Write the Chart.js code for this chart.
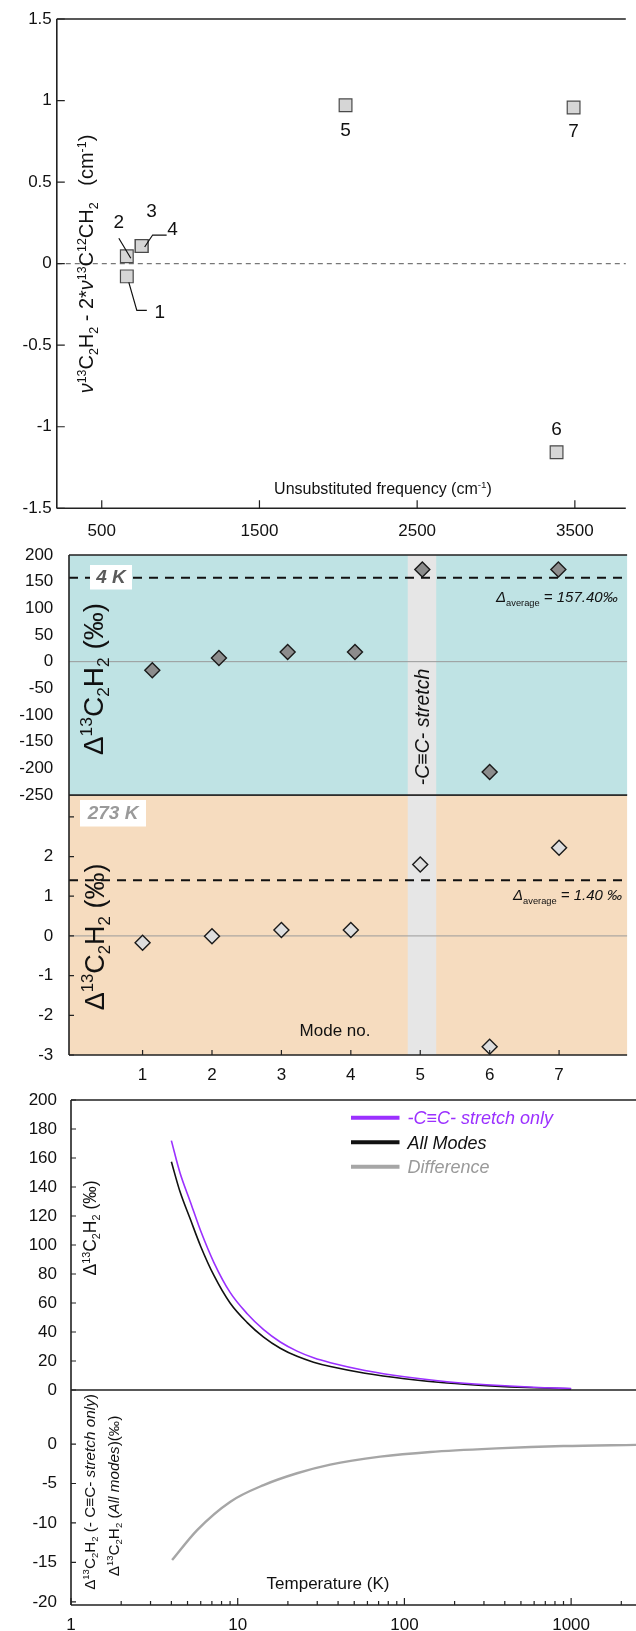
<!DOCTYPE html>
<html>
<head>
<meta charset="utf-8">
<script src="https://cdn.jsdelivr.net/npm/chart.js@4.4.1/dist/chart.umd.min.js"></script>
<style>
  html, body { margin: 0; padding: 0; background: #fff; width: 636px; height: 1631px; overflow: hidden; position: relative; }
  canvas { position: absolute; left: 0; }
</style>
</head>
<body>
<canvas id="cTop" width="636" height="550" style="top:0px"></canvas>
<canvas id="c273" width="636" height="310" style="top:780px"></canvas>
<canvas id="c4K" width="636" height="270" style="top:540px"></canvas>
<canvas id="cB2" width="636" height="241" style="top:1390px"></canvas>
<canvas id="cB1" width="636" height="320" style="top:1085px"></canvas>
<script>
// top panel: frequency shift vs unsubstituted frequency
const modeNames = ['1', '2', '3', '4', '5', '6', '7'];
const unsubFreq = [659, 659, 753, 753, 2046, 3384, 3492];
const freqDiff = [-0.078, 0.045, 0.108, 0.108, 0.971, -1.156, 0.957];
const freqTicks = [500, 1500, 2500, 3500];
const freqDiffTicks = [-1.5, -1, -0.5, 0, 0.5, 1, 1.5];

// middle panel: per-mode clumping at 4 K and 273 K
const modeNo = [1, 2, 3, 4, 5, 6, 7];
const modeNo4K = [1.14, 2.1, 3.09, 4.06, 5.03, 6.0, 6.99];
const delta4K = [-16, 7, 18, 18, 173, -207, 173];
const delta273K = [-0.17, -0.01, 0.15, 0.15, 1.80, -2.79, 2.22];
const avg4K = 157.40;
const avg273K = 1.40;
const stretchBand = [4.82, 5.23];
const ticks4K = [-250, -200, -150, -100, -50, 0, 50, 100, 150, 200];
const ticks273K = [-3, -2, -1, 0, 1, 2, 3];

// bottom panel: temperature dependence
const tempK = [4, 4.5, 5.2, 6, 7.2, 9, 11.4, 14.3, 18, 22.7, 28.5, 36, 58, 100, 180, 310, 600, 1000];
const stretchOnly = [172, 150, 129.7, 109.6, 87.9, 67.3, 52.6, 41.6, 33.1, 26.8, 22.2, 18.8, 13.5, 9.1, 5.7, 3.6, 1.85, 1.05];
const allModes = [157.4, 137, 117.7, 99, 79, 60, 46.5, 36.5, 28.8, 23.2, 19.2, 16.2, 11.6, 7.8, 4.8, 3.0, 1.5, 0.8];
const diffTemp = [4.04, 5.71, 9.04, 14.3, 22.7, 35.9, 71.6, 143, 358, 898, 2450];
const diffVals = [-14.7, -10.9, -7.3, -5.2, -3.7, -2.6, -1.6, -1.0, -0.55, -0.25, -0.1];
const seriesNames = ['-C\u2261C- stretch only', 'All Modes', 'Difference'];
const seriesColors = ['#9b30ff', '#111111', '#a6a6a6'];
const upperTicks = [0, 20, 40, 60, 80, 100, 120, 140, 160, 180, 200];
const lowerTicks = [-20, -15, -10, -5, 0];
const logTicks = [1, 2, 3, 4, 5, 6, 7, 8, 9, 10, 20, 30, 40, 50, 60, 70, 80, 90,
                  100, 200, 300, 400, 500, 600, 700, 800, 900, 1000, 2000];
const logMajor = [1, 10, 100, 1000];

const FAM = "'Liberation Sans', Arial, Helvetica, sans-serif";
Chart.defaults.font.family = FAM;
Chart.defaults.color = '#111';

const TOP_T = 0, TOP_4K = 540, TOP_273 = 780, TOP_B1 = 1085, TOP_B2 = 1390;

// text with sub/superscripts; parts = [text, 'n'|'sup'|'sub', italic]
function rich(ctx, parts, x, y, size, opts = {}) {
  ctx.save();
  ctx.translate(x, y);
  if (opts.rot) ctx.rotate(opts.rot);
  const fontFor = p => (p[2] ? 'italic ' : '') + (opts.bold ? 'bold ' : '') +
    (p[1] === 'n' ? size : size * 0.62) + 'px ' + FAM;
  let w = 0;
  parts.forEach(p => { ctx.font = fontFor(p); w += ctx.measureText(p[0]).width; });
  let cx = opts.align === 'left' ? 0 : -w / 2;
  ctx.fillStyle = opts.color || '#111';
  ctx.textBaseline = 'alphabetic';
  ctx.textAlign = 'left';
  const base = size * 0.36;
  parts.forEach(p => {
    ctx.font = fontFor(p);
    const dy = p[1] === 'sup' ? -size * 0.38 : p[1] === 'sub' ? size * 0.22 : 0;
    ctx.fillText(p[0], cx, base + dy);
    cx += ctx.measureText(p[0]).width;
  });
  ctx.restore();
}

function frame(chart, sides, width = 1.6, color = '#222') {
  const { ctx, chartArea: a } = chart;
  ctx.save();
  ctx.strokeStyle = color;
  ctx.lineWidth = width;
  ctx.beginPath();
  if (sides.includes('t')) { ctx.moveTo(a.left, a.top); ctx.lineTo(a.right, a.top); }
  if (sides.includes('b')) { ctx.moveTo(a.left, a.bottom); ctx.lineTo(a.right, a.bottom); }
  if (sides.includes('l')) { ctx.moveTo(a.left, a.top); ctx.lineTo(a.left, a.bottom); }
  ctx.stroke();
  ctx.restore();
}

function tickMarks(chart, id, values, len) {
  const { ctx, chartArea: a } = chart;
  const s = chart.scales[id];
  ctx.save();
  ctx.strokeStyle = '#222';
  ctx.lineWidth = 1.2;
  ctx.beginPath();
  values.forEach(v => {
    const p = s.getPixelForValue(v);
    if (s.isHorizontal()) { ctx.moveTo(p, a.bottom); ctx.lineTo(p, a.bottom - len); }
    else { ctx.moveTo(a.left, p); ctx.lineTo(a.left + len, p); }
  });
  ctx.stroke();
  ctx.restore();
}

function hLine(chart, value, color, width, dash) {
  const { ctx, chartArea: a } = chart;
  const y = chart.scales.y.getPixelForValue(value);
  ctx.save();
  ctx.strokeStyle = color;
  ctx.lineWidth = width;
  ctx.setLineDash(dash || []);
  ctx.beginPath();
  ctx.moveTo(a.left, y);
  ctx.lineTo(a.right, y);
  ctx.stroke();
  ctx.restore();
}

function fillArea(chart, color) {
  const { ctx, chartArea: a } = chart;
  ctx.save();
  ctx.fillStyle = color;
  ctx.fillRect(a.left, a.top, a.right - a.left, a.bottom - a.top);
  ctx.restore();
}

function band(chart) {
  const { ctx, chartArea: a } = chart;
  const x0 = chart.scales.x.getPixelForValue(stretchBand[0]);
  const x1 = chart.scales.x.getPixelForValue(stretchBand[1]);
  ctx.save();
  ctx.fillStyle = '#e6e6e6';
  ctx.fillRect(x0, a.top, x1 - x0, a.bottom - a.top);
  ctx.restore();
}

function tempBox(ctx, text, x, y, w, h, color) {
  ctx.save();
  ctx.fillStyle = '#fff';
  ctx.fillRect(x, y, w, h);
  ctx.font = 'italic bold 19px ' + FAM;
  ctx.fillStyle = color;
  ctx.textAlign = 'center';
  ctx.textBaseline = 'middle';
  ctx.fillText(text, x + w / 2, y + h / 2 + 1);
  ctx.restore();
}

// fixed axis size, and no extra layout padding from tick labels
function fixSize(prop, value) {
  return s => {
    s[prop] = value;
    s.paddingTop = 0; s.paddingBottom = 0; s.paddingLeft = 0; s.paddingRight = 0;
  };
}

function axisCommon(extra) {
  return Object.assign({
    grid: { display: false, drawTicks: false },
    border: { display: false },
  }, extra);
}

const baseOpts = {
  responsive: false,
  animation: false,
  events: [],
  plugins: { legend: { display: false }, tooltip: { enabled: false } },
};

// ---------- top panel ----------
const ZDelta = [['\u03bd', 'n', true], ['13', 'sup'], ['C', 'n'], ['2', 'sub'], ['H', 'n'], ['2', 'sub'],
  [' - 2*', 'n'], ['\u03bd', 'n', true], ['13', 'sup'], ['C', 'n'], ['12', 'sup'], ['CH', 'n'], ['2', 'sub'],
  ['   (cm', 'n'], ['-1', 'sup'], [')', 'n']];

new Chart(document.getElementById('cTop'), {
  type: 'scatter',
  data: {
    datasets: [{
      label: 'frequency difference',
      data: unsubFreq.map((x, i) => ({ x: x, y: freqDiff[i] })),
      pointStyle: 'rect',
      pointRadius: 9,
      backgroundColor: '#d6d6d6',
      borderColor: '#4a4a4a',
      borderWidth: 1.2,
    }],
  },
  options: Object.assign({}, baseOpts, {
    layout: { padding: { left: 0, top: 19, right: 0, bottom: 0 } },
    scales: {
      x: axisCommon({
        type: 'linear', min: 215, max: 3823,
        afterBuildTicks: s => { s.ticks = freqTicks.map(v => ({ value: v })); },
        afterFit: fixSize('height', 41.7),
        ticks: { font: { size: 17 }, padding: 13.2, maxRotation: 0, autoSkip: false, callback: v => String(v) },
      }),
      y: axisCommon({
        min: -1.5, max: 1.5,
        afterBuildTicks: s => { s.ticks = freqDiffTicks.map(v => ({ value: v })); },
        afterFit: fixSize('width', 56.8),
        ticks: { font: { size: 17 }, padding: 5, callback: v => String(v) },
      }),
    },
  }),
  plugins: [{
    id: 'topDeco',
    beforeDatasetsDraw(chart) {
      hLine(chart, 0, '#777', 1.2, [5, 4]);
    },
    afterDraw(chart) {
      const ctx = chart.ctx;
      frame(chart, 'tbl');
      tickMarks(chart, 'x', freqTicks, 8);
      tickMarks(chart, 'y', freqDiffTicks, 8);
      const xs = chart.scales.x, ys = chart.scales.y;
      const px = i => xs.getPixelForValue(unsubFreq[i]);
      const py = i => ys.getPixelForValue(freqDiff[i]);
      ctx.save();
      ctx.font = '19px ' + FAM;
      ctx.fillStyle = '#111';
      ctx.textAlign = 'center';
      ctx.textBaseline = 'middle';
      ctx.fillText(modeNames[4], px(4), py(4) + 25);
      ctx.fillText(modeNames[6], px(6), py(6) + 24);
      ctx.fillText(modeNames[5], px(5), py(5) - 22);
      ctx.fillText(modeNames[1], px(1) - 8, py(1) - 34);
      ctx.fillText(modeNames[2], px(2) + 10, py(2) - 34);
      ctx.fillText(modeNames[3], px(3) + 31, py(3) - 16);
      ctx.fillText(modeNames[0], px(0) + 33, py(0) + 36);
      ctx.strokeStyle = '#111';
      ctx.lineWidth = 1.2;
      ctx.beginPath();
      ctx.moveTo(px(1) - 8, py(1) - 18); ctx.lineTo(px(1) + 4, py(1) + 2);
      ctx.moveTo(px(3) + 3, py(3) + 1); ctx.lineTo(px(3) + 11, py(3) - 11); ctx.lineTo(px(3) + 25, py(3) - 11);
      ctx.moveTo(px(0) + 2, py(0) + 6); ctx.lineTo(px(0) + 10, py(0) + 34); ctx.lineTo(px(0) + 20, py(0) + 34);
      ctx.stroke();
      ctx.restore();
      rich(ctx, [['Unsubstituted frequency (cm', 'n'], ['-1', 'sup'], [')', 'n']], 383, 488 - TOP_T, 16);
      rich(ctx, ZDelta, 86, 264 - TOP_T, 20, { rot: -Math.PI / 2 });
    },
  }],
});

// ---------- middle panel: 4 K ----------
const DLabel = () => [['\u0394', 'n'], ['13', 'sup'], ['C', 'n'], ['2', 'sub'], ['H', 'n'], ['2', 'sub'], [' (\u2030)', 'n']];

new Chart(document.getElementById('c4K'), {
  type: 'scatter',
  data: {
    datasets: [{
      label: '4 K',
      data: modeNo4K.map((x, i) => ({ x: x, y: delta4K[i] })),
      pointStyle: 'rectRot',
      pointRadius: 7.5,
      backgroundColor: '#8c8c8c',
      borderColor: '#1a1a1a',
      borderWidth: 1.4,
    }],
  },
  options: Object.assign({}, baseOpts, {
    layout: { padding: { left: 0, top: 15, right: 0, bottom: 15 } },
    scales: {
      x: { type: 'linear', min: -0.06, max: 7.98, display: false },
      y: axisCommon({
        min: -250, max: 200,
        afterBuildTicks: s => { s.ticks = ticks4K.map(v => ({ value: v })); },
        afterFit: fixSize('width', 69),
        ticks: { font: { size: 17 }, padding: 15.7, callback: v => String(v) },
      }),
    },
  }),
  plugins: [{
    id: 'deco4K',
    beforeDraw(chart) { fillArea(chart, '#bfe3e4'); },
    beforeDatasetsDraw(chart) {
      band(chart);
      hLine(chart, 0, '#9a9a9a', 1);
      hLine(chart, avg4K, '#111', 2, [9, 7]);
    },
    afterDraw(chart) {
      const ctx = chart.ctx;
      frame(chart, 'tbl');
      tempBox(ctx, '4 K', 90, 565 - TOP_4K, 42, 24.5, '#5a5a5a');
      rich(ctx, [['\u0394', 'n', true], ['average', 'sub'], [' = 157.40\u2030', 'n', true]], 496, 597 - TOP_4K, 15, { align: 'left' });
      const xb = chart.scales.x.getPixelForValue((stretchBand[0] + stretchBand[1]) / 2);
      rich(ctx, [['-C\u2261C- stretch', 'n', true]], xb, 727 - TOP_4K, 19.5, { rot: -Math.PI / 2 });
      rich(ctx, DLabel(), 93, 679 - TOP_4K, 28, { rot: -Math.PI / 2 });
    },
  }],
});

// ---------- middle panel: 273 K ----------
new Chart(document.getElementById('c273'), {
  type: 'scatter',
  data: {
    datasets: [{
      label: '273 K',
      data: modeNo.map((x, i) => ({ x: x, y: delta273K[i] })),
      pointStyle: 'rectRot',
      pointRadius: 7.5,
      backgroundColor: '#dedede',
      borderColor: '#1a1a1a',
      borderWidth: 1.4,
    }],
  },
  options: Object.assign({}, baseOpts, {
    layout: { padding: { left: 0, top: 15, right: 0, bottom: 0 } },
    scales: {
      x: axisCommon({
        type: 'linear', min: -0.06, max: 7.98,
        afterBuildTicks: s => { s.ticks = modeNo.map(v => ({ value: v })); },
        afterFit: fixSize('height', 35),
        ticks: { font: { size: 17 }, padding: 10.5, maxRotation: 0, autoSkip: false, callback: v => String(v) },
      }),
      y: axisCommon({
        min: -3, max: 3.55,
        afterBuildTicks: s => { s.ticks = ticks273K.map(v => ({ value: v })); },
        afterFit: fixSize('width', 69),
        ticks: { font: { size: 17 }, padding: 15.7, callback: v => (v === 3 ? '' : String(v)) },
      }),
    },
  }),
  plugins: [{
    id: 'deco273',
    beforeDraw(chart) { fillArea(chart, '#f6dcbf'); },
    beforeDatasetsDraw(chart) {
      band(chart);
      hLine(chart, 0, '#9a9a9a', 1);
      hLine(chart, avg273K, '#111', 2, [9, 7]);
    },
    afterDraw(chart) {
      const ctx = chart.ctx;
      frame(chart, 'tbl');
      tickMarks(chart, 'y', ticks273K, 5);
      tickMarks(chart, 'x', modeNo, 5);
      tempBox(ctx, '273 K', 80, 800 - TOP_273, 66, 26.5, '#9a9a9a');
      rich(ctx, [['\u0394', 'n', true], ['average', 'sub'], [' = 1.40 \u2030', 'n', true]], 513, 895 - TOP_273, 15, { align: 'left' });
      rich(ctx, [['Mode no.', 'n']], 335, 1030 - TOP_273, 17);
      rich(ctx, DLabel(), 94, 937 - TOP_273, 27, { rot: -Math.PI / 2 });
    },
  }],
});

// ---------- bottom panel: upper ----------
new Chart(document.getElementById('cB1'), {
  type: 'line',
  data: {
    datasets: [
      { label: seriesNames[0], data: tempK.map((x, i) => ({ x: x, y: stretchOnly[i] })),
        borderColor: seriesColors[0], borderWidth: 1.6, pointRadius: 0, cubicInterpolationMode: 'monotone' },
      { label: seriesNames[1], data: tempK.map((x, i) => ({ x: x, y: allModes[i] })),
        borderColor: seriesColors[1], borderWidth: 1.6, pointRadius: 0, cubicInterpolationMode: 'monotone' },
    ],
  },
  options: Object.assign({}, baseOpts, {
    layout: { padding: { left: 0, top: 15, right: 0, bottom: 15 } },
    scales: {
      x: { type: 'logarithmic', min: 1, max: 2450, display: false },
      y: axisCommon({
        min: 0, max: 200,
        afterBuildTicks: s => { s.ticks = upperTicks.map(v => ({ value: v })); },
        afterFit: fixSize('width', 71),
        ticks: { font: { size: 17 }, padding: 14, callback: v => String(v) },
      }),
    },
  }),
  plugins: [{
    id: 'decoB1',
    afterDraw(chart) {
      const ctx = chart.ctx;
      frame(chart, 'tbl');
      tickMarks(chart, 'y', upperTicks, 5);
      rich(ctx, DLabel(), 90, 1228 - TOP_B1, 17.5, { rot: -Math.PI / 2 });
      const rows = [1117.7, 1142.3, 1166.7];
      seriesNames.forEach((name, i) => {
        const y = rows[i] - TOP_B1;
        ctx.save();
        ctx.strokeStyle = seriesColors[i];
        ctx.lineWidth = 4;
        ctx.beginPath();
        ctx.moveTo(351, y);
        ctx.lineTo(399.5, y);
        ctx.stroke();
        ctx.restore();
        rich(ctx, [[name, 'n', true]], 407.5, y, 18, { align: 'left', color: i === 2 ? '#9a9a9a' : seriesColors[i] });
      });
    },
  }],
});

// ---------- bottom panel: lower ----------
new Chart(document.getElementById('cB2'), {
  type: 'line',
  data: {
    datasets: [
      { label: seriesNames[2], data: diffTemp.map((x, i) => ({ x: x, y: diffVals[i] })),
        borderColor: seriesColors[2], borderWidth: 2.4, pointRadius: 0, cubicInterpolationMode: 'monotone' },
    ],
  },
  options: Object.assign({}, baseOpts, {
    layout: { padding: { left: 0, top: 0, right: 0, bottom: 0 } },
    scales: {
      x: axisCommon({
        type: 'logarithmic', min: 1, max: 2450,
        afterBuildTicks: s => { s.ticks = logTicks.map(v => ({ value: v })); },
        afterFit: fixSize('height', 26),
        ticks: { font: { size: 17 }, padding: 9.8, maxRotation: 0, autoSkip: false,
          callback: v => (logMajor.includes(v) ? String(v) : '') },
      }),
      y: axisCommon({
        min: -20.4, max: 6.85,
        afterBuildTicks: s => { s.ticks = lowerTicks.map(v => ({ value: v })); },
        afterFit: fixSize('width', 71),
        ticks: { font: { size: 17 }, padding: 14, callback: v => String(v) },
      }),
    },
  }),
  plugins: [{
    id: 'decoB2',
    afterDraw(chart) {
      const ctx = chart.ctx;
      frame(chart, 'bl');
      tickMarks(chart, 'y', lowerTicks, 5);
      tickMarks(chart, 'x', logTicks.filter(v => logMajor.includes(v)), 7);
      tickMarks(chart, 'x', logTicks.filter(v => !logMajor.includes(v)), 4);
      rich(ctx, [['Temperature (K)', 'n']], 328, 1583 - TOP_B2, 17);
      rich(ctx, [['\u0394', 'n'], ['13', 'sup'], ['C', 'n'], ['2', 'sub'], ['H', 'n'], ['2', 'sub'],
        [' (- C\u2261C- ', 'n'], ['stretch only', 'n', true], [')', 'n']], 89, 1492 - TOP_B2, 15.3, { rot: -Math.PI / 2 });
      rich(ctx, [['\u0394', 'n'], ['13', 'sup'], ['C', 'n'], ['2', 'sub'], ['H', 'n'], ['2', 'sub'],
        [' (', 'n'], ['All modes', 'n', true], [')(\u2030)', 'n']], 113, 1496 - TOP_B2, 15.3, { rot: -Math.PI / 2 });
    },
  }],
});
</script>
</body>
</html>
